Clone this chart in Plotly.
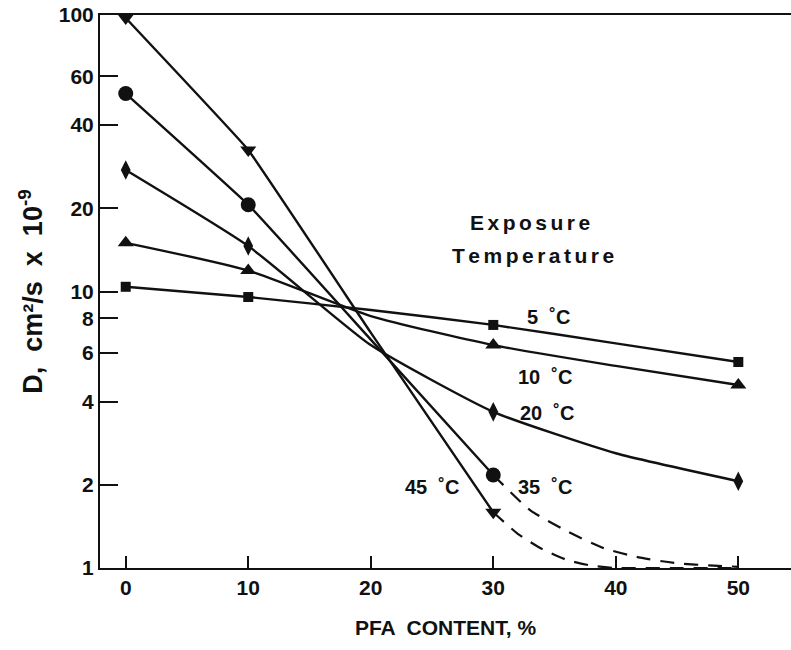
import math
import plotly.graph_objects as go

# Measured data points (markers)
pfa = [0, 10, 30, 50]
d5 = [10.4, 9.55, 7.57, 5.56]
d10 = [15.0, 11.9, 6.4, 4.59]
d20 = [27.5, 14.6, 3.67, 2.06]
pfa_35 = [0, 10, 30]
d35 = [52.0, 20.6, 2.17]
pfa_45 = [0, 10, 30]
d45 = [97.5, 32.5, 1.59]

# Curve paths (smooth lines)
curve_x = [0, 10, 20, 30, 40, 50]
c5 = [10.4, 9.55, 8.57, 7.57, 6.49, 5.56]
c10 = [15.0, 11.9, 8.15, 6.4, 5.38, 4.59]
c20 = [27.5, 14.6, 6.4, 3.67, 2.6, 2.06]
curve_x3 = [0, 10, 20, 30]
c35 = [52.0, 20.6, 6.7, 2.17]
c45 = [97.5, 32.5, 7.1, 1.59]

# Dashed extrapolations
dash35_x = [30, 33, 36, 39, 42, 45, 48, 50]
dash35_y = [2.17, 1.62, 1.36, 1.18, 1.09, 1.04, 1.02, 1.01]
dash45_x = [30, 32, 34, 36, 38, 40, 45, 50]
dash45_y = [1.59, 1.33, 1.17, 1.07, 1.02, 1.0, 1.0, 1.0]

y_ticks = [1, 2, 4, 6, 8, 10, 20, 40, 60, 100]
x_ticks = [0, 10, 20, 30, 40, 50]

# Curve labels (x, D value, text)
label_x = [34.5, 34.2, 34.4, 34.2, 25.0]
label_y = [8.09, 4.91, 3.64, 1.96, 1.96]
label_text = ["5  ˚C", "10  ˚C", "20  ˚C", "35  ˚C", "45  ˚C"]

# Legend heading (x, D value, text)
head_x = [33.0, 33.25]
head_y = [17.8, 13.55]
head_text = ["Exposure", "Temperature"]

BLACK = "#111111"
FONT = "Liberation Sans, Arial"
SP = "\u2006"
fig = go.Figure()

for cx, cy, sm in [(curve_x, c5, 0.6), (curve_x, c10, 0.6), (curve_x, c20, 0.5),
                   (curve_x3, c35, 0.25), (curve_x3, c45, 0.2)]:
    fig.add_trace(go.Scatter(x=cx, y=cy, mode="lines",
                             line=dict(color=BLACK, width=2.4, shape="spline", smoothing=sm),
                             showlegend=False, hoverinfo="skip"))

for dx, dy in [(dash35_x, dash35_y), (dash45_x, dash45_y)]:
    fig.add_trace(go.Scatter(x=dx, y=dy, mode="lines",
                             line=dict(color=BLACK, width=2.2, dash="14px,10px", shape="spline", smoothing=0.6),
                             showlegend=False, hoverinfo="skip"))

for mx, my, sym, sz in [(pfa, d5, "square", 10), (pfa, d10, "triangle-up", 14),
                        (pfa, d20, "diamond-tall", 14), (pfa_35, d35, "circle", 15),
                        (pfa_45, d45, "triangle-down", 14)]:
    fig.add_trace(go.Scatter(x=mx, y=my, mode="markers",
                             marker=dict(symbol=sym, size=sz, color=BLACK),
                             showlegend=False))

lab_font = dict(family=FONT, size=20, color=BLACK, weight="bold")
for lx, ly, txt in zip(label_x, label_y, label_text):
    fig.add_annotation(x=lx, y=math.log10(ly), xref="x", yref="y", text=txt, showarrow=False,
                       font=lab_font, xanchor="center", yanchor="middle")

head_font = dict(family=FONT, size=21, color=BLACK, weight="bold")
for hx, hy, txt in zip(head_x, head_y, head_text):
    fig.add_annotation(x=hx, y=math.log10(hy), xref="x", yref="y", text=SP.join(txt),
                       showarrow=False, font=head_font, xanchor="center", yanchor="middle")

fig.update_layout(
    width=791, height=650,
    margin=dict(l=100, r=0, t=15, b=82),
    plot_bgcolor="white", paper_bgcolor="white",
    font=dict(family=FONT, color=BLACK),
)
fig.update_xaxes(
    range=[-2.1, 54.3], tickvals=x_ticks, ticktext=[f"<b>{v}</b>" for v in x_ticks],
    ticks="inside", ticklen=12, tickwidth=2, tickcolor=BLACK,
    showline=True, linewidth=2, linecolor=BLACK, mirror=True,
    showgrid=False, zeroline=False,
    tickfont=dict(size=21, family=FONT, color=BLACK),
    title=dict(text="<b>PFA  CONTENT, %</b>", font=dict(size=21, color=BLACK), standoff=22),
)
fig.update_yaxes(
    type="log", range=[0, 2], tickvals=y_ticks, ticktext=[f"<b>{v}</b>" for v in y_ticks],
    ticks="inside", ticklen=18, tickwidth=2, tickcolor=BLACK,
    showline=True, linewidth=2, linecolor=BLACK,
    showgrid=False, zeroline=False,
    tickfont=dict(size=21, family=FONT, color=BLACK),
    title=dict(text="<b>D,  cm²/s  x  10<sup>-9</sup></b>", font=dict(size=27, color=BLACK), standoff=8),
)

fig.write_html("out.html")
